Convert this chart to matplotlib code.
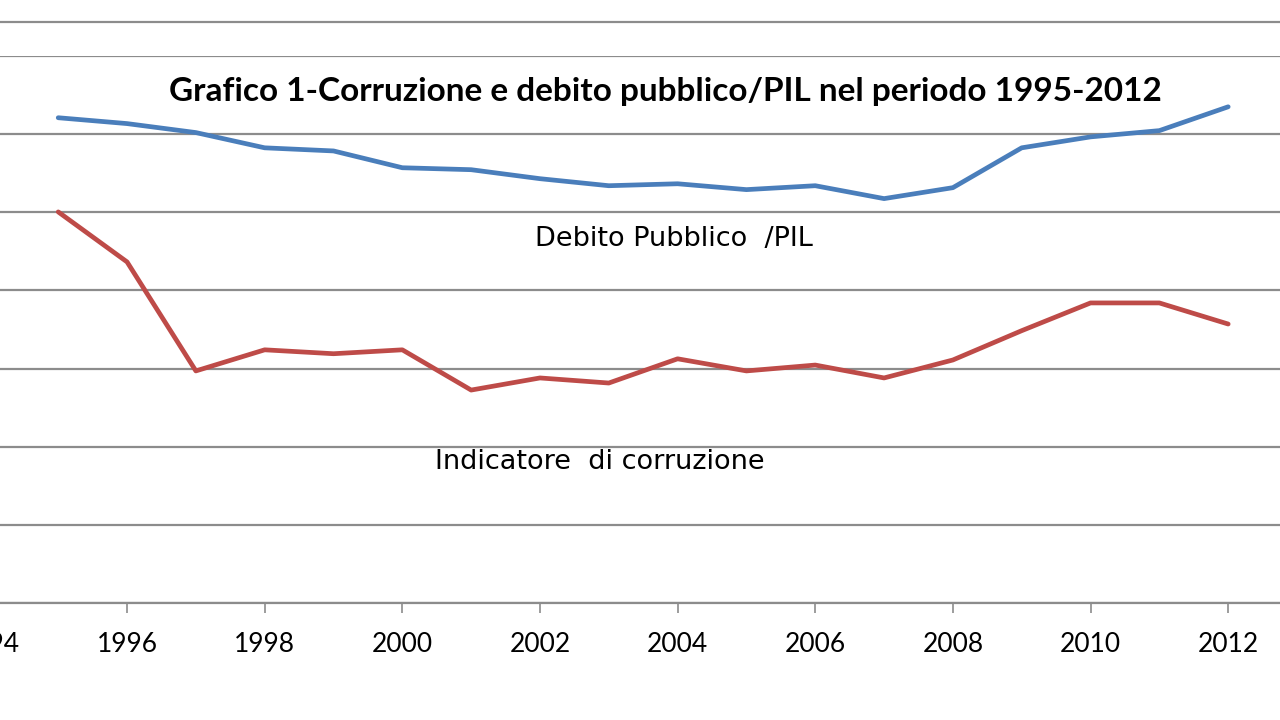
import matplotlib
matplotlib.use("Agg")
import matplotlib.pyplot as plt
from matplotlib.lines import Line2D

# --- data (gridline step = 20) ---
years = list(range(1995, 2013))
debito_pil = [124.2, 122.7, 120.4, 116.5, 115.7, 111.4, 110.9, 108.6, 106.8,
              107.3, 105.8, 106.8, 103.5, 106.3, 116.5, 119.3, 120.9, 127.0]
corruzione = [100.1, 87.3, 59.4, 64.8, 63.8, 64.8, 54.5, 57.6, 56.3,
              62.5, 59.4, 60.9, 57.6, 62.2, 69.7, 76.8, 76.8, 71.4]
xticks = list(range(1994, 2014, 2))
ygrid = list(range(0, 141, 20))

title = "Grafico 1-Corruzione e debito pubblico/PIL nel periodo 1995-2012"
label_debito = "Debito Pubblico  /PIL"
label_corr = "Indicatore  di corruzione"

blue = "#4A7EBB"
red = "#BE4B48"
grid_col = "#8C8C8C"

fig = plt.figure(figsize=(12.8, 7.2), dpi=100)
W, H = 1280, 720

# axes reaches a bit past the left/right edges, like the cropped original
x0, x1 = -10.6, 1297.0
y_top, y_bot = 56.0, 603.0
ax = fig.add_axes([x0 / W, (H - y_bot) / H, (x1 - x0) / W, (y_bot - y_top) / H])
ax.set_xlim(1994, 2013)
ax.set_ylim(0, 140)

ax.plot(years, debito_pil, color=blue, lw=3.4, solid_capstyle="round", zorder=3)
ax.plot(years, corruzione, color=red, lw=3.4, solid_capstyle="round", zorder=3)

ax.set_yticks(ygrid)
ax.yaxis.grid(True, color=grid_col, lw=1.6)
ax.tick_params(axis="y", left=False, labelleft=False)
ax.set_xticks(xticks)
ax.set_xticklabels([str(t) for t in xticks], fontsize=19, family="Lato")
ax.tick_params(axis="x", direction="out", length=7, width=1.2, color=grid_col, pad=14)
for s in ["top", "left", "right"]:
    ax.spines[s].set_visible(False)
ax.spines["bottom"].set_color(grid_col)
ax.spines["bottom"].set_linewidth(1.6)

# chart border line at the top
fig.add_artist(Line2D([0, 1], [(H - 22) / H, (H - 22) / H], color=grid_col, lw=1.6))

fig.text(665 / W, (H - 92) / H, title, ha="center", va="center",
         fontsize=24, fontweight="bold", family="Lato")
fig.text(535 / W, (H - 239) / H, label_debito, ha="left", va="center",
         fontsize=19.5, family="DejaVu Sans")
fig.text(435 / W, (H - 462) / H, label_corr, ha="left", va="center",
         fontsize=19.5, family="DejaVu Sans")

fig.savefig("out.png", dpi=100)
